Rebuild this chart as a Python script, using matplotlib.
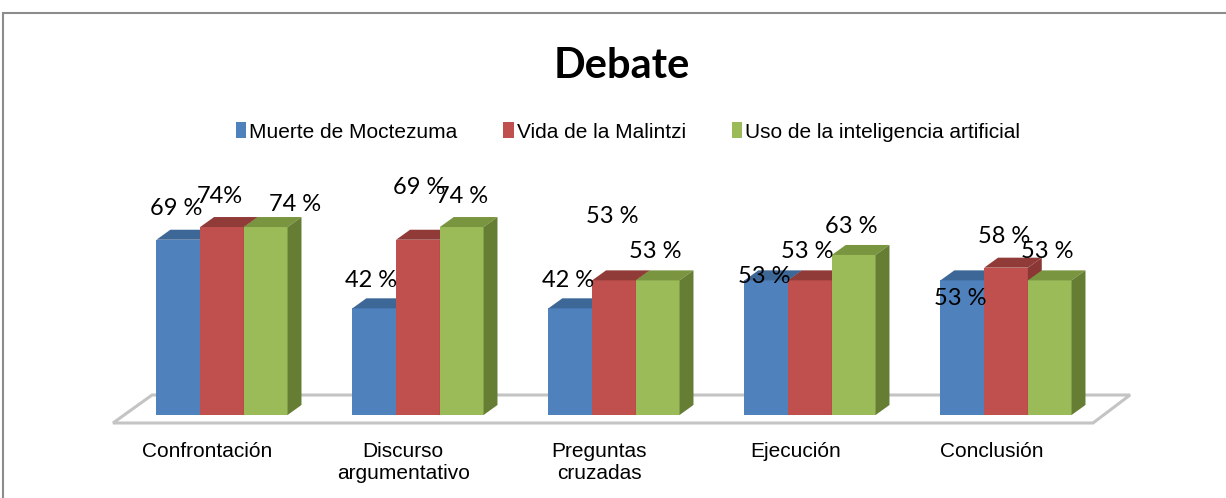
import numpy as np
import matplotlib.pyplot as plt
from matplotlib.patches import Polygon, Rectangle, Patch

# --- DATA ---
categories = ['Confrontación', 'Discurso\nargumentativo', 'Preguntas\ncruzadas',
              'Ejecución', 'Conclusión']
series = ['Muerte de Moctezuma', 'Vida de la Malintzi', 'Uso de la inteligencia artificial']
moctezuma = [69, 42, 42, 53, 53]
malintzi = [74, 69, 53, 53, 58]
ia = [74, 74, 53, 63, 53]
labels_moctezuma = ['69 %', '42 %', '42 %', '53 %', '53 %']
labels_malintzi = ['74%', '69 %', '53 %', '53 %', '58 %']
labels_ia = ['74 %', '74 %', '53 %', '63 %', '53 %']

values = [moctezuma, malintzi, ia]
labels = [labels_moctezuma, labels_malintzi, labels_ia]

# --- STYLE ---
front = ['#4F81BD', '#C0504D', '#9BBB59']
top = ['#3D6796', '#913B39', '#7A953F']
side = ['#385D8A', '#8A3735', '#667D34']
# label offsets in pixels (right, up) from the top centre of each bar
label_off = [
    [(-2, 31), (-3, 28), (-2, 28), (-2, 4), (-2, -18)],
    [(-2, 31), (1, 52), (-2, 64), (-3, 29), (-2, 31)],
    [(29, 23), (0, 31), (-2, 29), (-2, 28), (-2, 29)],
]
width = 0.223
dx, dy = 0.071, 3.94   # fake 3D depth

fig = plt.figure(figsize=(12.26, 4.98), dpi=100)
ax = fig.add_axes([84.8 / 1226, 57.6 / 498, 1058.4 / 1226, 266.7 / 498])
ax.set_xlim(-0.7, 4.7)
ax.set_ylim(-10, 95)
for s in ax.spines.values():
    s.set_visible(False)
ax.set_yticks([])

# floor
floor = Polygon([(-0.556, -3.15), (4.444, -3.15), (4.633, 7.87), (-0.357, 7.87)],
                closed=True, facecolor='white', edgecolor='#c4c4c4', lw=2.2, zorder=1)
ax.add_patch(floor)

x = np.arange(len(categories))
for s in range(3):
    xs = x + (s - 1) * width
    z = 3 + s
    ax.bar(xs, values[s], width, color=front[s], zorder=z, linewidth=0)
    for i, v in enumerate(values[s]):
        x0, x1 = xs[i] - width / 2, xs[i] + width / 2
        ax.add_patch(Polygon([(x0, v), (x0 + dx, v + dy), (x1 + dx, v + dy), (x1, v)],
                             closed=True, facecolor=top[s], lw=0, zorder=z))
        ax.add_patch(Polygon([(x1, 0), (x1 + dx, dy), (x1 + dx, v + dy), (x1, v)],
                             closed=True, facecolor=side[s], lw=0, zorder=z))

for s in range(3):
    xs = x + (s - 1) * width
    for i, v in enumerate(values[s]):
        ax.annotate(labels[s][i], (xs[i], v), xytext=label_off[s][i],
                    textcoords='offset pixels', ha='center', va='center',
                    fontsize=17, family='Lato', color='black', zorder=10)

ax.set_xticks(x - 0.075)
ax.set_xticklabels(categories, fontsize=15, family='Liberation Sans')
ax.tick_params(axis='x', length=0, pad=1)

# title & legend
fig.text(622 / 1226, 1 - 66 / 498, 'Debate', ha='center', va='center',
         fontsize=30, fontweight='bold', family='Lato')
handles = [Patch(facecolor=c, edgecolor='none') for c in front]
fig.legend(handles, series, loc='center', bbox_to_anchor=(628 / 1226, 1 - 132 / 498),
           ncol=3, frameon=False, handlelength=0.5, handleheight=0.8,
           handletextpad=0.15, columnspacing=2.2,
           prop={'family': 'Liberation Sans', 'size': 15})

# chart border
fig.add_artist(Rectangle((3 / 1226, -0.05), 1.2, 1 - 13 / 498 + 0.05,
                         transform=fig.transFigure, fill=False,
                         edgecolor='#8c8c8c', lw=1.5))

fig.savefig('out.png', dpi=100)
